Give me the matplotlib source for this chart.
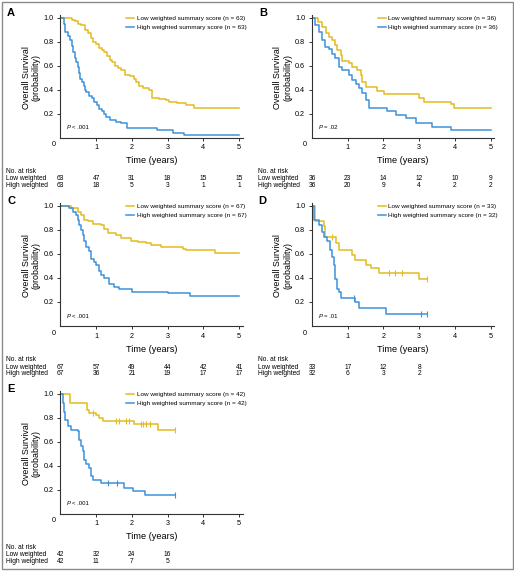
import matplotlib
matplotlib.use('Agg')
import matplotlib.pyplot as plt
import numpy as np
from matplotlib.patches import Rectangle

plt.rcParams['font.family'] = ['Liberation Sans', 'DejaVu Sans']

YELLOW = '#E3BB22'
BLUE = '#3D92DB'

# panel A
a_low_t = [0, 0.32, 0.42, 0.50, 0.58, 0.68, 0.78, 0.85, 0.92, 1.00, 1.08, 1.15, 1.22, 1.30, 1.38, 1.45, 1.52,
           1.60, 1.70, 1.80, 1.95, 2.05, 2.12, 2.20, 2.30, 2.48, 2.56, 2.75, 2.95, 3.05, 3.25, 3.50, 3.75, 5.0]
a_low_s = [1.0, 0.98, 0.97, 0.95, 0.94, 0.90, 0.87, 0.83, 0.80, 0.78, 0.75, 0.73, 0.71, 0.68, 0.65, 0.63, 0.60,
           0.58, 0.56, 0.52, 0.51, 0.49, 0.46, 0.43, 0.41, 0.40, 0.33, 0.32, 0.31, 0.30, 0.29, 0.27, 0.25, 0.25]
a_high_t = [0, 0.10, 0.14, 0.22, 0.28, 0.33, 0.36, 0.40, 0.44, 0.48, 0.52, 0.56, 0.60, 0.65, 0.68, 0.72, 0.80,
            0.88, 0.95, 1.02, 1.08, 1.15, 1.22, 1.28, 1.40, 1.55, 1.70, 1.85, 2.70, 3.15, 3.45, 5.0]
a_high_s = [1.0, 0.95, 0.88, 0.85, 0.81, 0.76, 0.71, 0.66, 0.63, 0.59, 0.54, 0.49, 0.46, 0.43, 0.40, 0.38, 0.35,
            0.33, 0.30, 0.27, 0.24, 0.22, 0.20, 0.17, 0.15, 0.13, 0.12, 0.08, 0.06, 0.04, 0.02, 0.02]
a_risk_low = [63, 47, 31, 18, 15, 15]
a_risk_high = [63, 18, 5, 3, 1, 1]

# panel B
b_low_t = [0, 0.18, 0.29, 0.38, 0.48, 0.57, 0.64, 0.71, 0.80, 0.85, 1.04, 1.13, 1.27, 1.36, 1.41, 1.50, 1.83,
           2.02, 3.00, 3.14, 3.89, 3.98, 5.0]
b_low_s = [1.0, 0.96, 0.92, 0.87, 0.84, 0.81, 0.77, 0.73, 0.69, 0.64, 0.62, 0.59, 0.56, 0.52, 0.46, 0.42, 0.39,
           0.36, 0.33, 0.30, 0.28, 0.25, 0.25]
b_high_t = [0, 0.08, 0.20, 0.29, 0.36, 0.48, 0.57, 0.64, 0.76, 0.85, 1.04, 1.13, 1.22, 1.32, 1.41, 1.50, 1.60,
            2.11, 2.35, 2.63, 2.91, 3.37, 3.89, 5.0]
b_high_s = [1.0, 0.94, 0.88, 0.81, 0.755, 0.74, 0.70, 0.66, 0.59, 0.56, 0.52, 0.48, 0.45, 0.41, 0.37, 0.31, 0.25,
            0.22, 0.19, 0.16, 0.125, 0.09, 0.06, 0.06]
b_risk_low = [36, 23, 14, 12, 10, 9]
b_risk_high = [36, 20, 9, 4, 2, 2]

# panel C
c_low_t = [0, 0.30, 0.49, 0.58, 0.67, 0.77, 0.91, 1.14, 1.23, 1.33, 1.56, 1.70, 1.98, 2.17, 2.40, 2.54, 2.82,
           3.43, 3.52, 4.32, 5.0]
c_low_s = [1.0, 0.98, 0.95, 0.92, 0.88, 0.87, 0.85, 0.84, 0.81, 0.77, 0.755, 0.73, 0.71, 0.70, 0.69, 0.67, 0.66,
           0.64, 0.63, 0.61, 0.61]
c_high_t = [0, 0.25, 0.35, 0.44, 0.49, 0.53, 0.58, 0.63, 0.67, 0.72, 0.81, 0.86, 0.93, 1.00, 1.09, 1.14, 1.23,
            1.37, 1.51, 1.65, 2.0, 3.01, 3.62, 5.0]
c_high_s = [1.0, 0.98, 0.95, 0.92, 0.88, 0.84, 0.80, 0.755, 0.71, 0.66, 0.62, 0.56, 0.53, 0.505, 0.46, 0.42, 0.40,
            0.35, 0.325, 0.31, 0.28, 0.27, 0.25, 0.25]
c_risk_low = [67, 57, 49, 44, 42, 41]
c_risk_high = [67, 36, 21, 19, 17, 17]

# panel D
d_low_t = [0, 0.07, 0.33, 0.37, 0.67, 0.75, 1.12, 1.21, 1.50, 1.64, 1.87, 2.99, 3.22]
d_low_s = [1.0, 0.87, 0.83, 0.74, 0.69, 0.63, 0.59, 0.55, 0.51, 0.48, 0.44, 0.39, 0.39]
d_low_cens = [0.56, 2.15, 2.32, 2.52, 3.22]
d_high_t = [0, 0.05, 0.19, 0.28, 0.33, 0.42, 0.49, 0.56, 0.61, 0.65, 0.70, 0.75, 0.82, 1.21, 1.31, 2.06, 3.22]
d_high_s = [1.0, 0.88, 0.84, 0.78, 0.74, 0.71, 0.63, 0.575, 0.505, 0.39, 0.31, 0.28, 0.23, 0.20, 0.145, 0.095, 0.095]
d_high_cens = [1.18, 3.04, 3.22]
d_risk_low = [33, 17, 12, 8]
d_risk_high = [32, 6, 3, 2]

# panel E
e_low_t = [0, 0.28, 0.75, 0.81, 1.00, 1.09, 1.19, 2.06, 2.73, 3.21]
e_low_s = [1.0, 0.92, 0.86, 0.84, 0.82, 0.80, 0.775, 0.745, 0.70, 0.70]
e_low_cens = [0.92, 1.56, 1.65, 1.84, 1.93, 2.26, 2.31, 2.40, 2.50, 3.21]
e_high_t = [0, 0.065, 0.09, 0.13, 0.21, 0.30, 0.49, 0.53, 0.58, 0.63, 0.67, 0.72, 0.81, 0.86, 0.91, 1.14, 1.79,
            2.03, 2.37, 3.21]
e_high_s = [1.0, 0.92, 0.85, 0.78, 0.73, 0.70, 0.685, 0.615, 0.56, 0.52, 0.45, 0.41, 0.38, 0.31, 0.28, 0.255, 0.21,
            0.19, 0.157, 0.157]
e_high_cens = [1.33, 1.59, 3.21]
e_risk_low = [42, 32, 24, 16]
e_risk_high = [42, 11, 7, 5]

W, H = 514, 572
AX_W, AX_H = 182.3, 122.4
FS_SMALL = 4.8

fig = plt.figure(figsize=(W / 100, H / 100), dpi=100)
fig.patches.append(Rectangle((1.5 / W, 3.5 / H), (W - 3) / W, (H - 5) / H, transform=fig.transFigure,
                             fill=False, edgecolor='#8a8a8a', lw=1.0))


def surv_at(t, s, pts):
    idx = np.searchsorted(t, pts, side='right') - 1
    return np.array(s)[idx]


def panel(left, bottom, letter, low_t, low_s, high_t, high_s, n_low, n_high, ptxt,
          risk_low, risk_high, low_cens=None, high_cens=None):
    ax = fig.add_axes([left / W, 1 - bottom / H, AX_W / W, AX_H / H])
    ax.step(low_t, low_s, where='post', color=YELLOW, lw=1.1,
            label='Low weighted summary score (n = %d)' % n_low)
    ax.step(high_t, high_s, where='post', color=BLUE, lw=1.1,
            label='High weighted summary score (n = %d)' % n_high)
    if low_cens:
        ax.plot(low_cens, surv_at(low_t, low_s, low_cens), ls='none', marker='|', ms=4, mew=0.8, color=YELLOW)
    if high_cens:
        ax.plot(high_cens, surv_at(high_t, high_s, high_cens), ls='none', marker='|', ms=4, mew=0.8, color=BLUE)
    ax.set_xlim(0, 5.1)
    ax.set_ylim(0, 1.02)
    ax.set_xticks([1, 2, 3, 4, 5])
    ax.set_yticks([0.2, 0.4, 0.6, 0.8, 1.0])
    ax.set_yticklabels(['0.2', '0.4', '0.6', '0.8', '1.0'])
    ax.tick_params(labelsize=5.2, length=2.5, width=0.7, pad=2.5, color='#333333')
    for sp in ['top', 'right']:
        ax.spines[sp].set_visible(False)
    for sp in ['left', 'bottom']:
        ax.spines[sp].set_linewidth(0.8)
        ax.spines[sp].set_color('#333333')
    ax.text(-0.039, -0.061, '0', transform=ax.transAxes, fontsize=5.2, ha='center', va='center')
    ax.text(0.5, -0.19, 'Time (years)', transform=ax.transAxes, fontsize=6.6, ha='center', va='center')
    ax.text(-0.16, 0.49, 'Overall Survival\n(probability)', transform=ax.transAxes, fontsize=6.4,
            rotation=90, ha='center', va='center', multialignment='center', linespacing=1.2)
    ax.text(-0.27, 1.02, letter, transform=ax.transAxes, fontsize=8, fontweight='bold',
            ha='center', va='center')
    p, rest = ptxt.split(' ', 1)
    ax.text(0.035, 0.078, p, transform=ax.transAxes, fontsize=4.3, style='italic', va='center')
    ax.text(0.066, 0.078, rest, transform=ax.transAxes, fontsize=4.3, va='center')
    ax.legend(loc='upper left', bbox_to_anchor=(0.36, 0.995), frameon=False, fontsize=4.6,
              handlelength=1.3, handletextpad=0.4, labelspacing=0.55, borderpad=0, borderaxespad=0)
    # numbers at risk
    ax.text(-0.298, -0.275, 'No. at risk', transform=ax.transAxes, fontsize=FS_SMALL, va='center')
    ax.text(-0.298, -0.339, 'Low weighted', transform=ax.transAxes, fontsize=FS_SMALL, va='center')
    ax.text(-0.298, -0.393, 'High weighted', transform=ax.transAxes, fontsize=FS_SMALL, va='center')
    tr = ax.get_xaxis_transform()
    for i, v in enumerate(risk_low):
        ax.text(i, -0.339, str(v), transform=tr, fontsize=FS_SMALL, ha='center', va='center')
    for i, v in enumerate(risk_high):
        ax.text(i, -0.393, str(v), transform=tr, fontsize=FS_SMALL, ha='center', va='center')
    return ax


panel(60.4, 137.5, 'A', a_low_t, a_low_s, a_high_t, a_high_s, 63, 63, 'P < .001', a_risk_low, a_risk_high)
panel(312.0, 137.5, 'B', b_low_t, b_low_s, b_high_t, b_high_s, 36, 36, 'P = .02', b_risk_low, b_risk_high)
panel(60.4, 325.8, 'C', c_low_t, c_low_s, c_high_t, c_high_s, 67, 67, 'P < .001', c_risk_low, c_risk_high)
panel(312.0, 325.8, 'D', d_low_t, d_low_s, d_high_t, d_high_s, 33, 32, 'P = .01', d_risk_low, d_risk_high,
      d_low_cens, d_high_cens)
panel(60.4, 513.5, 'E', e_low_t, e_low_s, e_high_t, e_high_s, 42, 42, 'P < .001', e_risk_low, e_risk_high,
      e_low_cens, e_high_cens)

fig.savefig('out.png', dpi=100)
